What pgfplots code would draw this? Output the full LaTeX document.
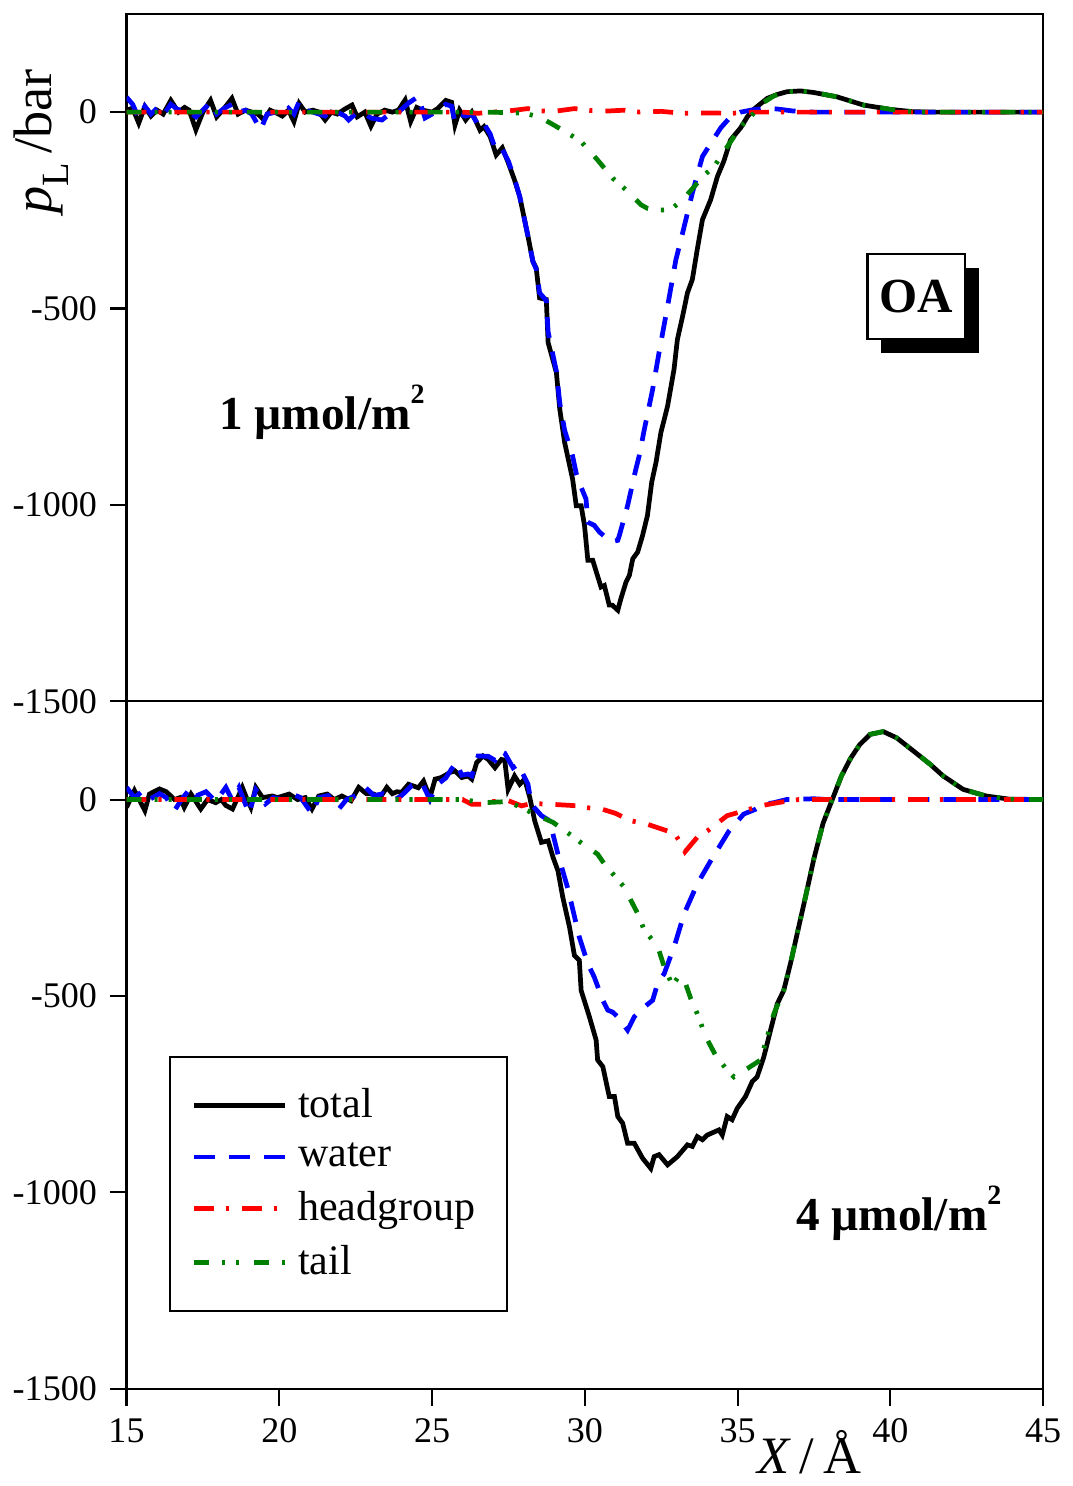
\documentclass[border=0pt]{standalone}
\usepackage{fontspec}
\setmainfont{Liberation Serif}
\usepackage{pgfplots}
\pgfplotsset{compat=1.18}
\usetikzlibrary{shadows}

\definecolor{wblue}{RGB}{0,0,255}
\definecolor{hred}{RGB}{255,0,0}
\definecolor{tgreen}{RGB}{0,128,0}

\newcommand{\sqm}{m\raisebox{0.55em}{\fontsize{8}{9}\selectfont 2}}

\pgfplotsset{
  panel/.style={
    scale only axis, width=9.2cm, height=6.9cm,
    xmin=15, xmax=45, ymin=-1500, ymax=250,
    ytick={-1500,-1000,-500,0},
    tick align=outside, major tick length=0.17cm,
    xtick pos=bottom, ytick pos=left,
    line width=0.6pt, tick style={line width=0.6pt, black},
    tick label style={font=\fontsize{10.3}{12}\selectfont},
    /pgf/number format/assume math mode=true,
    /pgf/number format/1000 sep={},
  },
  total/.style={black, line width=1.35pt},
  water/.style={wblue, line width=1.35pt, dash pattern=on 6pt off 4pt},
  head/.style={hred, line width=1.35pt, dash pattern=on 5.7pt off 3.4pt on 0.9pt off 3.7pt},
  tail/.style={tgreen, line width=1.35pt, dash pattern=on 4.3pt off 3.7pt on 0.9pt off 3.1pt on 0.9pt off 4.3pt},
}

\begin{document}
\begin{tikzpicture}
% ---- top panel: 1 umol/m2
\begin{axis}[panel, at={(0,6.9cm)}, xtick=\empty,
  ylabel={\textit{p}\raisebox{-0.3em}{\fontsize{11}{12}\selectfont L}\,/bar},
  ylabel style={at={(rel axis cs:-0.093,0.815)}, anchor=center, font=\fontsize{15.5}{17}\selectfont},
]
\addplot[total] coordinates {
(15.0,5) (15.2,10) (15.4,-28) (15.6,14) (15.8,-10) (16.0,5) (16.2,-5) (16.45,30) (16.7,0) (16.9,12)
(17.05,5) (17.27,-45) (17.5,0) (17.75,30) (17.95,-12) (18.2,10) (18.45,35) (18.65,-5) (18.9,5) (19.1,0)
(19.3,-5) (19.5,-20) (19.7,5) (19.9,-2) (20.1,-10) (20.3,5) (20.48,-24) (20.65,22) (20.85,0) (21.1,5)
(21.3,0) (21.5,-20) (21.7,0) (21.9,-5) (22.15,8) (22.38,18) (22.55,-12) (22.8,0) (23.0,-36) (23.2,-5)
(23.45,5) (23.7,0) (23.9,5) (24.12,31) (24.3,-24) (24.5,12) (24.7,5) (25.0,0) (25.2,10) (25.45,30)
(25.64,25) (25.75,-33) (25.9,5) (26.1,-20) (26.3,0) (26.57,-46) (26.7,-37) (26.9,-62) (27.1,-109) (27.3,-91)
(27.5,-130) (27.7,-173) (27.87,-215) (28.14,-316) (28.3,-380) (28.41,-397) (28.52,-473) (28.74,-477) (28.8,-587) (29.07,-663)
(29.18,-756) (29.34,-841) (29.6,-934) (29.72,-1002) (29.88,-1002) (29.99,-1052) (30.1,-1141) (30.26,-1141) (30.53,-1209) (30.64,-1205)
(30.8,-1255) (30.9,-1255) (31.08,-1268) (31.18,-1239) (31.35,-1196) (31.46,-1179) (31.57,-1137) (31.73,-1120) (31.89,-1078) (32.05,-1027)
(32.19,-942) (32.33,-892) (32.49,-816) (32.71,-748) (32.92,-655) (33.03,-579) (33.2,-520) (33.36,-460) (33.52,-426) (33.68,-350)
(33.85,-274) (34.12,-223) (34.34,-164) (34.55,-125) (34.77,-71) (35.1,-40) (35.32,-12) (35.5,5) (35.7,18) (35.97,35)
(36.3,45) (36.62,52) (37.06,54) (37.49,50) (38.25,39) (39.12,18) (40.0,7) (40.75,1) (41.5,0) (45,0)
};
\addplot[water] coordinates {
(15.0,38) (15.2,20) (15.4,-15) (15.6,15) (15.8,-5) (16.0,10) (16.2,-8) (16.45,20) (16.7,5) (16.9,10)
(17.05,0) (17.27,-12) (17.5,5) (17.75,25) (17.95,-5) (18.2,10) (18.45,20) (18.65,0) (18.9,5) (19.1,-5)
(19.39,-45) (19.6,-5) (19.9,0) (20.1,-5) (20.3,10) (20.48,-5) (20.65,27) (20.85,5) (21.1,0) (21.3,-5)
(21.5,-10) (21.7,5) (21.9,0) (22.15,-10) (22.27,-20) (22.55,0) (22.8,-5) (23.0,-15) (23.36,-20) (23.6,-5)
(23.9,0) (24.23,23) (24.55,40) (24.77,-15) (25.0,-5) (25.2,5) (25.45,20) (25.64,15) (25.75,-25) (25.9,-5)
(26.1,-10) (26.3,-5) (26.57,-40) (26.7,-30) (26.9,-55) (27.1,-100) (27.3,-95) (27.5,-125) (27.7,-170) (27.87,-215)
(28.14,-316) (28.3,-380) (28.41,-400) (28.52,-460) (28.74,-480) (28.8,-560) (29.07,-660) (29.18,-740) (29.34,-810) (29.6,-875)
(29.72,-920) (29.88,-955) (30.04,-985) (30.1,-1044) (30.31,-1052) (30.48,-1069) (30.86,-1094) (31.08,-1090) (31.13,-1078) (31.4,-1002)
(31.67,-909) (31.78,-875) (31.95,-807) (32.22,-706) (32.43,-612) (32.71,-494) (32.98,-376) (33.2,-308) (33.52,-206) (33.85,-113)
(34.12,-80) (34.45,-40) (34.77,-12) (35.1,0) (35.5,6) (35.9,10) (36.3,8) (36.8,3) (37.5,0) (45,0)
};
\addplot[head] coordinates {
(15,0) (26.0,0) (26.5,-3) (27.0,0) (27.5,3) (28.14,9) (28.5,3) (29.0,2) (29.66,9) (30.2,4)
(30.8,3) (31.3,5) (31.8,0) (32.5,2) (33.2,-3) (34.0,-2) (34.8,-3) (35.5,0) (45,0)
};
\addplot[tail] coordinates {
(15,0) (26.6,0) (27.5,-1) (28.03,-3) (28.5,-12) (28.9,-29) (29.45,-54) (29.88,-75) (30.42,-122) (30.91,-168)
(31.35,-198) (31.84,-236) (32.05,-245) (32.3,-250) (32.6,-249) (32.9,-242) (33.14,-228) (33.58,-190) (33.85,-164) (34.23,-139)
(34.55,-101) (34.88,-63) (35.2,-29) (35.53,-3) (35.86,25) (36.2,42) (36.62,52) (37.06,54) (37.49,50) (38.25,39)
(39.12,18) (40.0,7) (40.75,1) (41.5,0) (45,0)
};
\node[anchor=west, font=\fontsize{13.5}{15}\selectfont\bfseries] at (axis cs:17.62,-764) {1 µmol/\sqm};
\node[draw=black, fill=white, line width=0.6pt, minimum width=0.98cm, minimum height=0.85cm,
  font=\fontsize{14}{16}\selectfont\bfseries,
  general shadow={fill=black, shadow xshift=0.14cm, shadow yshift=-0.14cm}] at (axis cs:40.85,-470) {OA};
\end{axis}

% ---- bottom panel: 4 umol/m2
\begin{axis}[panel, at={(0,0)}, xtick={15,20,...,45},
  xlabel={\textit{X}\,/\,Å},
  xlabel style={at={(rel axis cs:0.745,0)}, anchor=center, yshift=-0.64cm, font=\fontsize{15}{17}\selectfont},
  legend style={at={(rel axis cs:0.0467,0.484)}, anchor=north west, draw=black, line width=0.6pt,
    font=\fontsize{12}{14}\selectfont, inner xsep=6pt, inner ysep=7pt, row sep=1.6pt,
    cells={anchor=west}, nodes={inner xsep=3pt}},
  legend image code/.code={\draw[#1] (0cm,0cm) -- (0.92cm,0cm);},
]
\addplot[total] coordinates {
(15.0,-20) (15.26,23) (15.6,-28) (15.75,14) (16.08,27) (16.3,20) (16.57,0) (16.75,5) (16.89,-20) (17.11,14)
(17.43,-24) (17.65,0) (17.92,-8) (18.1,0) (18.25,-15) (18.47,-24) (18.79,31) (18.95,0) (19.07,-20) (19.23,31)
(19.45,5) (19.77,9) (19.95,5) (20.32,14) (20.6,0) (20.85,5) (21.07,-24) (21.29,9) (21.57,14) (21.8,0)
(22.05,9) (22.35,-3) (22.6,31) (22.85,15) (23.09,14) (23.3,5) (23.52,31) (23.7,15) (23.85,20) (24.0,18)
(24.23,39) (24.55,30) (24.72,47) (24.93,5) (25.1,52) (25.3,56) (25.59,69) (25.75,73) (25.97,56) (26.18,60)
(26.3,52) (26.46,94) (26.67,111) (26.84,102) (27.06,81) (27.27,102) (27.38,100) (27.49,26) (27.7,60) (27.87,39)
(28.03,52) (28.2,5) (28.36,-54) (28.58,-109) (28.8,-105) (28.96,-147) (29.12,-181) (29.28,-249) (29.5,-325) (29.66,-397)
(29.82,-409) (29.88,-486) (30.15,-553) (30.37,-612) (30.42,-663) (30.59,-680) (30.8,-756) (30.97,-756) (31.08,-807) (31.24,-824)
(31.4,-875) (31.62,-875) (31.89,-913) (32.16,-939) (32.27,-909) (32.43,-904) (32.71,-930) (33.03,-909) (33.36,-879) (33.52,-883)
(33.68,-858) (33.85,-866) (34.01,-854) (34.39,-841) (34.5,-854) (34.66,-807) (34.82,-815) (34.99,-786) (35.26,-756) (35.48,-718)
(35.64,-706) (35.86,-655) (36.08,-587) (36.3,-520) (36.51,-486) (36.73,-418) (36.95,-342) (37.22,-249) (37.5,-150) (37.8,-60)
(38.1,0) (38.4,60) (38.7,105) (39.0,140) (39.34,166) (39.77,173) (40.21,157) (40.75,124) (41.3,90) (41.73,60)
(42.38,26) (43.14,9) (43.9,1) (45,0)
};
\addlegendentry{total}
\addplot[water] coordinates {
(15.0,31) (15.26,5) (15.5,20) (15.75,0) (16.08,15) (16.3,5) (16.57,-28) (16.8,0) (17.11,31) (17.3,10)
(17.6,20) (17.92,-5) (18.25,31) (18.45,0) (18.68,31) (19.01,-36) (19.23,25) (19.55,-11) (19.8,5) (20.1,0)
(20.42,14) (20.7,5) (21.07,-36) (21.3,5) (21.6,10) (21.95,-24) (22.2,0) (22.5,10) (22.82,31) (23.1,10)
(23.4,15) (23.79,0) (24.0,10) (24.34,36) (24.66,44) (24.93,0) (25.2,40) (25.45,55) (25.64,78) (25.8,95)
(25.97,62) (26.18,65) (26.3,60) (26.51,111) (26.84,110) (27.06,100) (27.22,124) (27.38,118) (27.65,81) (27.82,90)
(28.14,39) (28.25,-12) (28.58,-41) (28.85,-54) (29.12,-139) (29.45,-228) (29.82,-350) (30.1,-418) (30.31,-452) (30.59,-511)
(30.75,-536) (30.91,-541) (31.1,-555) (31.4,-587) (31.62,-553) (31.95,-528) (32.22,-511) (32.38,-469) (32.6,-443) (32.76,-409)
(32.92,-376) (33.25,-291) (33.68,-215) (34.12,-156) (34.72,-80) (35.2,-37) (35.58,-25) (35.86,-12) (36.19,-8) (36.6,0)
(37.5,2) (38,0) (45,0)
};
\addlegendentry{water}
\addplot[head] coordinates {
(15,0) (26.0,0) (26.3,-12) (26.7,-12) (27.0,-5) (27.5,-3) (27.93,-16) (28.25,-10) (28.9,-12) (29.77,-16)
(29.99,-20) (30.59,-25) (31.0,-35) (31.29,-46) (31.51,-54) (32.05,-63) (32.71,-80) (32.92,-84) (33.09,-105) (33.28,-133)
(33.68,-96) (34.01,-80) (34.66,-41) (35.2,-29) (35.75,-16) (36.3,-8) (37,0) (45,0)
};
\addlegendentry{headgroup}
\addplot[tail] coordinates {
(15,0) (26.0,0) (26.7,-8) (27.5,-5) (28.14,-29) (28.58,-45) (28.96,-58) (29.5,-88) (29.93,-113) (30.42,-139)
(30.64,-164) (31.29,-223) (31.57,-266) (31.73,-290) (31.95,-333) (32.38,-373) (32.6,-426) (32.87,-473) (33.09,-448) (33.3,-469)
(33.47,-507) (33.68,-545) (33.96,-604) (34.28,-651) (34.66,-689) (34.88,-706) (35.1,-695) (35.32,-685) (35.75,-663) (35.97,-604)
(36.19,-545) (36.51,-486) (36.73,-418) (36.95,-342) (37.22,-249) (37.5,-150) (37.8,-60) (38.1,0) (38.4,60) (38.7,105)
(39.0,140) (39.34,166) (39.77,173) (40.21,157) (40.75,124) (41.3,90) (41.73,60) (42.38,26) (43.14,9) (43.9,1)
(45,0)
};
\addlegendentry{tail}
\node[anchor=west, font=\fontsize{13.5}{15}\selectfont\bfseries] at (axis cs:36.5,-1053) {4 µmol/\sqm};
\end{axis}
\path (-1.27cm,-0.92cm) (9.42cm,13.94cm);
\end{tikzpicture}
\end{document}
